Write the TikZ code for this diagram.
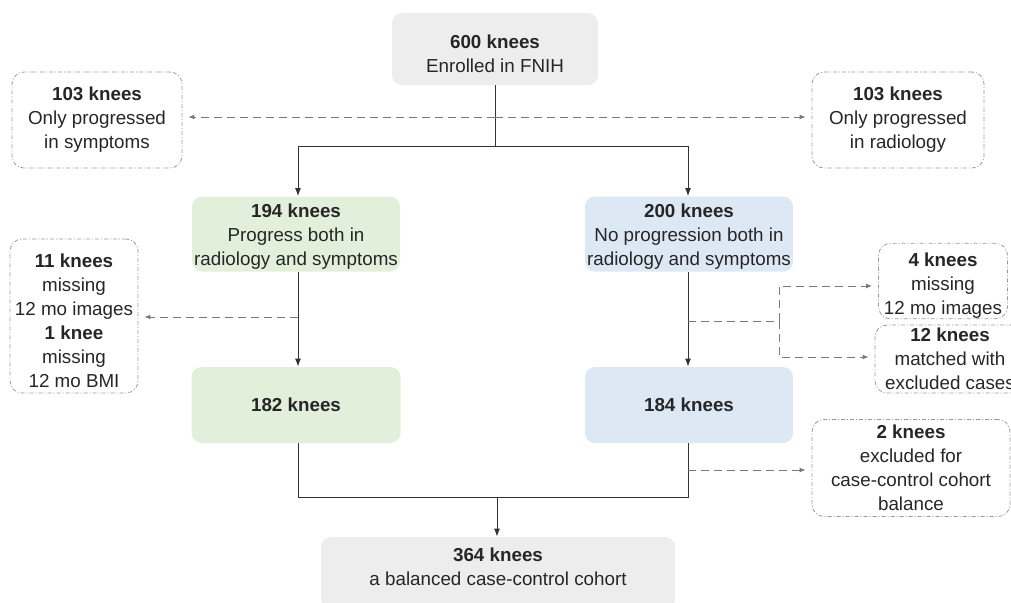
\documentclass[tikz,border=0pt]{standalone}
\usepackage{fontspec}
\setmainfont{Liberation Sans}
\usetikzlibrary{positioning,arrows.meta}
\definecolor{boxgray}{HTML}{EDEDED}
\definecolor{boxgreen}{HTML}{E2EFDA}
\definecolor{boxblue}{HTML}{DDE8F5}
\definecolor{linegray}{HTML}{7A7A7A}
\definecolor{edgegray}{HTML}{999999}
\newcommand{\padtop}[1]{\rule{0pt}{#1}}
\newcommand{\padbot}[1]{\rule[-#1]{0pt}{0pt}}
\tikzset{
  stage/.style={rounded corners=5pt, align=center, inner sep=0pt,
    font=\fontsize{9.4}{12}\selectfont, text=black!85},
  excl/.style={draw=edgegray, line width=0.4pt,
    dash pattern=on 2pt off 1pt on 0.5pt off 1pt, rounded corners=6pt,
    align=center, inner sep=0pt, font=\fontsize{9.4}{12}\selectfont, text=black!85},
  flow/.style={-{Latex[length=4pt,width=3pt]}, black!80, line width=0.5pt},
  side/.style={linegray, dash pattern=on 4pt off 2.5pt,
    -{Latex[length=3pt,width=2.5pt]}, line width=0.5pt, shorten >=3pt}
}
\begin{document}
\begin{tikzpicture}[x=0.5pt,y=-0.5pt]
  \useasboundingbox (0,0) rectangle (1011,602);
  \clip (0,0) rectangle (1011,602);
  % main stages
  \node[stage, fill=boxgray, minimum width=103pt, minimum height=36pt] (enrol) at (495,49)
    {\padtop{11.8pt}\textbf{600 knees}\\Enrolled in FNIH};
  \node[stage, fill=boxgreen, minimum width=104pt, minimum height=37.5pt] (prog) at (296,234)
    {\padtop{9.8pt}\textbf{194 knees}\\Progress both in\\radiology and symptoms};
  \node[stage, fill=boxblue, minimum width=104pt, minimum height=37.5pt] (noprog) at (689,234)
    {\padtop{9.8pt}\textbf{200 knees}\\No progression both in\\radiology and symptoms};
  \node[stage, fill=boxgreen, minimum width=104.5pt, minimum height=38pt] (progkept) at (296,405)
    {\textbf{182 knees}};
  \node[stage, fill=boxblue, minimum width=104pt, minimum height=38pt] (noprogkept) at (689,405)
    {\textbf{184 knees}};
  \node[stage, fill=boxgray, minimum width=177pt, minimum height=36pt] (cohort) at (498,573)
    {\textbf{364 knees}\\a balanced case-control cohort\padbot{6pt}};
  % excluded knees
  \node[excl, minimum width=85pt, minimum height=48pt] (onlysym) at (97,120)
    {\textbf{103 knees}\\Only progressed\\in symptoms};
  \node[excl, minimum width=86pt, minimum height=48pt] (onlyrad) at (898,120)
    {\textbf{103 knees}\\Only progressed\\in radiology};
  \node[excl, minimum width=64pt, minimum height=77pt] (missg) at (74,316)
    {\padtop{11.8pt}\textbf{11 knees}\\missing\\12 mo images\\\textbf{1 knee}\\missing\\12 mo BMI};
  \node[excl, minimum width=64.5pt, minimum height=32pt] (missb) at (943,281)
    {\padtop{11.8pt}\textbf{4 knees}\\missing\\12 mo images};
  \node[excl, minimum width=75pt, minimum height=34pt] (matched) at (950,359)
    {\textbf{12 knees}\\matched with\\excluded cases};
  \node[excl, minimum width=99pt, minimum height=48.5pt] (balance) at (911,468)
    {\textbf{2 knees}\\excluded for\\case-control cohort\\balance};
  % junctions
  \coordinate (split) at (495,146);
  \coordinate (merge) at (497,497);
  \coordinate (sidetop) at (495,117);
  \coordinate (sideg) at (298,317);
  \coordinate (sideb) at (688,321);
  \coordinate (forkb) at (779,321);
  \coordinate (sidebal) at (688,470);
  % flow
  \draw[black!80, line width=0.5pt] (enrol.south) -- (split);
  \draw[flow] (split) -| (prog.north -| 298,0);
  \draw[flow] (split) -| (noprog.north -| 688,0);
  \draw[flow] (prog.south -| 298,0) -- (progkept.north -| 298,0);
  \draw[flow] (noprog.south -| 688,0) -- (noprogkept.north -| 688,0);
  \draw[black!80, line width=0.5pt] (progkept.south -| 298,0) |- (merge)
    -| (noprogkept.south -| 688,0);
  \draw[flow] (merge) -- (cohort.north -| merge);
  % exclusions
  \draw[side] (sidetop) -- (onlysym.east |- sidetop);
  \draw[side] (sidetop) -- (onlyrad.west |- sidetop);
  \draw[side] (sideg) -- (missg.east |- sideg);
  \draw[linegray, dash pattern=on 4pt off 2.5pt, line width=0.5pt] (sideb) -- (forkb);
  \draw[side] (forkb) |- (missb.west |- 0,286);
  \draw[side] (forkb) |- (matched.west |- 0,357);
  \draw[side] (sidebal) -- (balance.west |- sidebal);
\end{tikzpicture}
\end{document}
